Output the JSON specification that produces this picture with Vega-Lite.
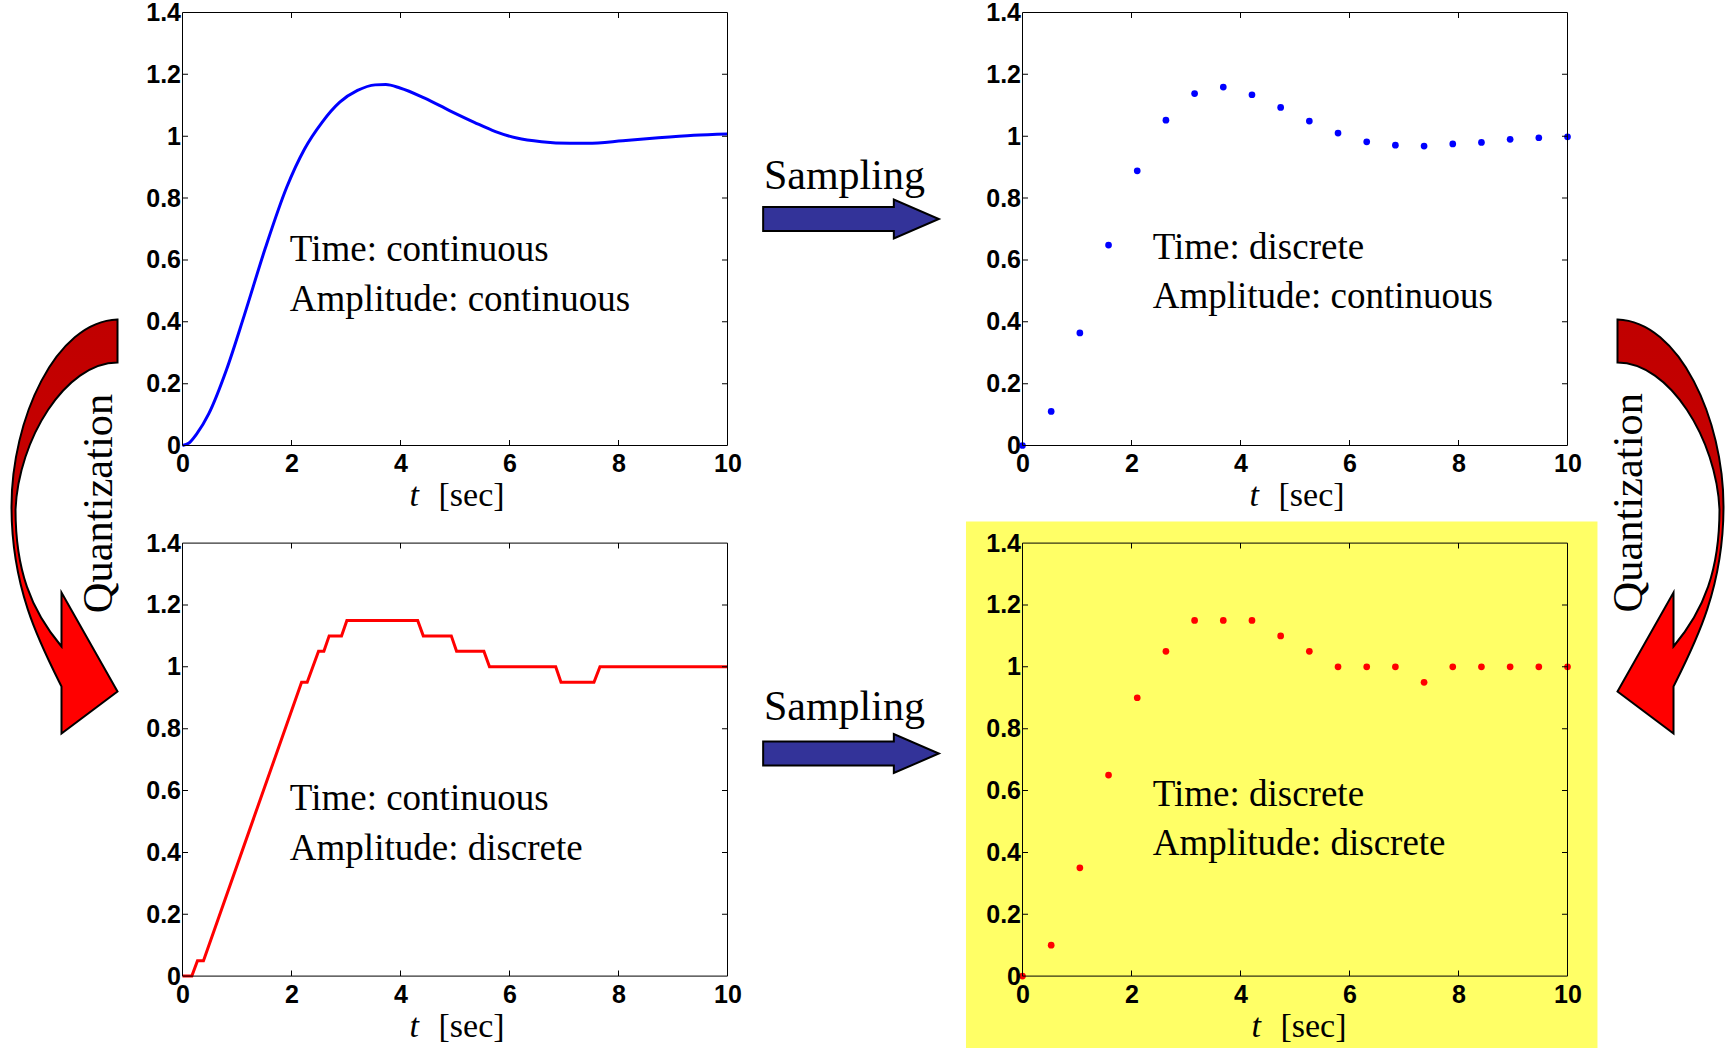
{
  "$schema": "https://vega.github.io/schema/vega-lite/v6.json",
  "background": "white",
  "padding": {"left": 6.5, "top": 0.5, "right": 0, "bottom": 0},
  "bounds": "flush",
  "columns": 2,
  "spacing": {"row": 97.6, "column": 295},
  "datasets": {
    "cont": [{"t":0,"v":0},{"t":0.12,"v":0.008},{"t":0.255,"v":0.036},{"t":0.483,"v":0.103},{"t":0.807,"v":0.245},{"t":1.132,"v":0.42},{"t":1.523,"v":0.64},{"t":1.912,"v":0.835},{"t":2.237,"v":0.958},{"t":2.561,"v":1.045},{"t":2.886,"v":1.11},{"t":3.211,"v":1.148},{"t":3.535,"v":1.166},{"t":3.73,"v":1.167},{"t":3.99,"v":1.156},{"t":4.444,"v":1.123},{"t":4.899,"v":1.083},{"t":5.354,"v":1.045},{"t":5.743,"v":1.015},{"t":6.133,"v":0.994},{"t":6.587,"v":0.982},{"t":7.108,"v":0.977},{"t":7.431,"v":0.977},{"t":8.08,"v":0.985},{"t":8.732,"v":0.995},{"t":9.382,"v":1.003},{"t":10,"v":1.007}],
    "quant": [{"t":0,"v":0},{"t":0.171,"v":0},{"t":0.275,"v":0.05},{"t":0.385,"v":0.05},{"t":2.185,"v":0.95},{"t":2.288,"v":0.95},{"t":2.496,"v":1.05},{"t":2.594,"v":1.05},{"t":2.691,"v":1.1},{"t":2.918,"v":1.1},{"t":3.016,"v":1.15},{"t":4.315,"v":1.15},{"t":4.418,"v":1.1},{"t":4.932,"v":1.1},{"t":5.029,"v":1.05},{"t":5.53,"v":1.05},{"t":5.633,"v":1.0},{"t":6.848,"v":1.0},{"t":6.945,"v":0.95},{"t":7.55,"v":0.95},{"t":7.66,"v":1.0},{"t":10,"v":1.0}],
    "samp": [{"t":0,"v":0},{"t":0.5263,"v":0.11},{"t":1.0526,"v":0.364},{"t":1.5789,"v":0.648},{"t":2.1053,"v":0.888},{"t":2.6316,"v":1.052},{"t":3.1579,"v":1.138},{"t":3.6842,"v":1.159},{"t":4.2105,"v":1.134},{"t":4.7368,"v":1.093},{"t":5.2632,"v":1.049},{"t":5.7895,"v":1.01},{"t":6.3158,"v":0.982},{"t":6.8421,"v":0.971},{"t":7.3684,"v":0.968},{"t":7.8947,"v":0.975},{"t":8.4211,"v":0.98},{"t":8.9474,"v":0.99},{"t":9.4737,"v":0.995},{"t":10,"v":0.998}],
    "sampq": [{"t":0,"v":0},{"t":0.5263,"v":0.1},{"t":1.0526,"v":0.35},{"t":1.5789,"v":0.65},{"t":2.1053,"v":0.9},{"t":2.6316,"v":1.05},{"t":3.1579,"v":1.15},{"t":3.6842,"v":1.15},{"t":4.2105,"v":1.15},{"t":4.7368,"v":1.1},{"t":5.2632,"v":1.05},{"t":5.7895,"v":1.0},{"t":6.3158,"v":1.0},{"t":6.8421,"v":1.0},{"t":7.3684,"v":0.95},{"t":7.8947,"v":1.0},{"t":8.4211,"v":1.0},{"t":8.9474,"v":1.0},{"t":9.4737,"v":1.0},{"t":10,"v":1.0}],
    "xt": [{"v":2},{"v":4},{"v":6},{"v":8}],
    "yt": [{"v":0.2},{"v":0.4},{"v":0.6},{"v":0.8},{"v":1},{"v":1.2}],
    "one": [{}]
  },
  "config": {
    "view": {"stroke": null},
    "axis": {"zindex": 1, "grid": false, "ticks": false, "domain": false, "labelFont": "Liberation Sans", "labelFontWeight": "bold", "labelFontSize": 25, "labelColor": "black", "labelOverlap": false, "labelFlush": false},
    "axisX": {"labelPadding": 6},
    "axisY": {"labelPadding": 2}
  },
  "concat": [
    {
      "width": 545, "height": 433,
      "layer": [
        {"data": {"name": "cont"}, "mark": {"type": "line", "color": "#0000FF", "strokeWidth": 3, "interpolate": "monotone"},
         "encoding": {"x": {"field": "t", "type": "quantitative", "scale": {"domain": [0, 10], "nice": false, "zero": false}, "axis": {"values": [0, 2, 4, 6, 8, 10], "title": null, "format": ".2~f", "zindex": 1}},
                      "y": {"field": "v", "type": "quantitative", "scale": {"domain": [0, 1.4], "nice": false}, "axis": {"values": [0, 0.2, 0.4, 0.6, 0.8, 1, 1.2, 1.4], "title": null, "format": ".2~f", "zindex": 1}}}},
        {"data": {"values": [{"tx": 1.97, "ty": 0.596, "label": "Time: continuous"}, {"tx": 1.97, "ty": 0.434, "label": "Amplitude: continuous"}]},
         "mark": {"type": "text", "align": "left", "baseline": "alphabetic", "font": "Liberation Serif", "fontSize": 37, "color": "black"},
         "encoding": {"x": {"field": "tx", "type": "quantitative"}, "y": {"field": "ty", "type": "quantitative"}, "text": {"field": "label"}}},
        {"data": {"name": "one"}, "mark": {"type": "rect", "filled": false, "color": "black", "strokeWidth": 1}, "encoding": {"x": {"datum": 0}, "x2": {"datum": 10}, "y": {"datum": 0}, "y2": {"datum": 1.4}}},
        {"data": {"name": "xt"}, "mark": {"type": "tick", "orient": "vertical", "size": 11, "thickness": 1, "color": "black", "opacity": 1, "clip": true}, "encoding": {"x": {"field": "v", "type": "quantitative"}, "y": {"datum": 0}}},
        {"data": {"name": "xt"}, "mark": {"type": "tick", "orient": "vertical", "size": 11, "thickness": 1, "color": "black", "opacity": 1, "clip": true}, "encoding": {"x": {"field": "v", "type": "quantitative"}, "y": {"datum": 1.4}}},
        {"data": {"name": "yt"}, "mark": {"type": "tick", "orient": "horizontal", "size": 11, "thickness": 1, "color": "black", "opacity": 1, "clip": true}, "encoding": {"y": {"field": "v", "type": "quantitative"}, "x": {"datum": 0}}},
        {"data": {"name": "yt"}, "mark": {"type": "tick", "orient": "horizontal", "size": 11, "thickness": 1, "color": "black", "opacity": 1, "clip": true}, "encoding": {"y": {"field": "v", "type": "quantitative"}, "x": {"datum": 10}}},
        {"data": {"name": "one"}, "mark": {"type": "text", "text": "t", "font": "Liberation Serif", "fontStyle": "italic", "fontSize": 34, "align": "left", "baseline": "alphabetic", "color": "black"}, "encoding": {"x": {"datum": 4.165}, "y": {"datum": -0.1963}}},
        {"data": {"name": "one"}, "mark": {"type": "text", "text": "[sec]", "font": "Liberation Serif", "fontSize": 34, "align": "left", "baseline": "alphabetic", "color": "black"}, "encoding": {"x": {"datum": 4.697}, "y": {"datum": -0.1963}}},
        {"data": {"name": "one"}, "mark": {"type": "point", "shape": "M-0.976,-0.133 L0.476,-0.133 L0.476,-0.217 L0.976,0 L0.476,0.217 L0.476,0.133 L-0.976,0.133 Z", "size": 32400, "filled": true, "fill": "#333399", "stroke": "black", "strokeWidth": 2, "opacity": 1}, "encoding": {"x": {"datum": 12.266}, "y": {"datum": 0.7323}}},
        {"data": {"name": "one"}, "mark": {"type": "text", "text": "Sampling", "font": "Liberation Serif", "fontSize": 42, "align": "center", "baseline": "alphabetic", "color": "black"}, "encoding": {"x": {"datum": 12.145}, "y": {"datum": 0.8309}}},
        {"data": {"name": "one"}, "mark": {"type": "point", "shape": "M0.2524,-0.9857 C-0.0429,-0.9762 -0.2524,-0.5095 -0.2524,-0.0952 C-0.2524,0.3 -0.1143,0.5619 -0.0143,0.7619 L-0.0143,0.9857 L0.2524,0.7857 L-0.0143,0.3143 L-0.0143,0.5714 C-0.1619,0.3952 -0.2333,0.2048 -0.2333,-0.081 C-0.219,-0.4143 0.0048,-0.781 0.2524,-0.781 Z", "size": 176400, "filled": true, "fill": {"gradient": "linear", "x1": 0, "y1": 0, "x2": 0, "y2": 1, "stops": [{"offset": 0, "color": "#C00000"}, {"offset": 0.44, "color": "#C80000"}, {"offset": 0.5, "color": "#FF0000"}, {"offset": 1, "color": "#FF0000"}]}, "stroke": "black", "strokeWidth": 2, "opacity": 1}, "encoding": {"x": {"datum": -2.1651}, "y": {"datum": -0.2619}}},
        {"data": {"name": "one"}, "mark": {"type": "text", "text": "Quantization", "angle": 270, "font": "Liberation Serif", "fontSize": 42.5, "align": "center", "baseline": "alphabetic", "color": "black"}, "encoding": {"x": {"datum": -1.29}, "y": {"datum": -0.1875}}}
      ]
    },
    {
      "width": 545, "height": 433,
      "layer": [
        {"data": {"name": "samp"}, "mark": {"type": "point", "filled": true, "size": 45, "color": "#0000FF", "opacity": 1},
         "encoding": {"x": {"field": "t", "type": "quantitative", "scale": {"domain": [0, 10], "nice": false, "zero": false}, "axis": {"values": [0, 2, 4, 6, 8, 10], "title": null, "format": ".2~f", "zindex": 1}},
                      "y": {"field": "v", "type": "quantitative", "scale": {"domain": [0, 1.4], "nice": false}, "axis": {"values": [0, 0.2, 0.4, 0.6, 0.8, 1, 1.2, 1.4], "title": null, "format": ".2~f", "zindex": 1}}}},
        {"data": {"values": [{"tx": 2.39, "ty": 0.604, "label": "Time: discrete"}, {"tx": 2.39, "ty": 0.445, "label": "Amplitude: continuous"}]},
         "mark": {"type": "text", "align": "left", "baseline": "alphabetic", "font": "Liberation Serif", "fontSize": 37, "color": "black"},
         "encoding": {"x": {"field": "tx", "type": "quantitative"}, "y": {"field": "ty", "type": "quantitative"}, "text": {"field": "label"}}},
        {"data": {"name": "one"}, "mark": {"type": "rect", "filled": false, "color": "black", "strokeWidth": 1}, "encoding": {"x": {"datum": 0}, "x2": {"datum": 10}, "y": {"datum": 0}, "y2": {"datum": 1.4}}},
        {"data": {"name": "xt"}, "mark": {"type": "tick", "orient": "vertical", "size": 11, "thickness": 1, "color": "black", "opacity": 1, "clip": true}, "encoding": {"x": {"field": "v", "type": "quantitative"}, "y": {"datum": 0}}},
        {"data": {"name": "xt"}, "mark": {"type": "tick", "orient": "vertical", "size": 11, "thickness": 1, "color": "black", "opacity": 1, "clip": true}, "encoding": {"x": {"field": "v", "type": "quantitative"}, "y": {"datum": 1.4}}},
        {"data": {"name": "yt"}, "mark": {"type": "tick", "orient": "horizontal", "size": 11, "thickness": 1, "color": "black", "opacity": 1, "clip": true}, "encoding": {"y": {"field": "v", "type": "quantitative"}, "x": {"datum": 0}}},
        {"data": {"name": "yt"}, "mark": {"type": "tick", "orient": "horizontal", "size": 11, "thickness": 1, "color": "black", "opacity": 1, "clip": true}, "encoding": {"y": {"field": "v", "type": "quantitative"}, "x": {"datum": 10}}},
        {"data": {"name": "one"}, "mark": {"type": "text", "text": "t", "font": "Liberation Serif", "fontStyle": "italic", "fontSize": 34, "align": "left", "baseline": "alphabetic", "color": "black"}, "encoding": {"x": {"datum": 4.165}, "y": {"datum": -0.1963}}},
        {"data": {"name": "one"}, "mark": {"type": "text", "text": "[sec]", "font": "Liberation Serif", "fontSize": 34, "align": "left", "baseline": "alphabetic", "color": "black"}, "encoding": {"x": {"datum": 4.697}, "y": {"datum": -0.1963}}},
        {"data": {"name": "one"}, "mark": {"type": "point", "shape": "M-0.2524,-0.9857 C0.0429,-0.9762 0.2524,-0.5095 0.2524,-0.0952 C0.2524,0.3 0.1143,0.5619 0.0143,0.7619 L0.0143,0.9857 L-0.2524,0.7857 L0.0143,0.3143 L0.0143,0.5714 C0.1619,0.3952 0.2333,0.2048 0.2333,-0.081 C0.219,-0.4143 -0.0048,-0.781 -0.2524,-0.781 Z", "size": 176400, "filled": true, "fill": {"gradient": "linear", "x1": 0, "y1": 0, "x2": 0, "y2": 1, "stops": [{"offset": 0, "color": "#C00000"}, {"offset": 0.44, "color": "#C80000"}, {"offset": 0.5, "color": "#FF0000"}, {"offset": 1, "color": "#FF0000"}]}, "stroke": "black", "strokeWidth": 2, "opacity": 1}, "encoding": {"x": {"datum": 11.89}, "y": {"datum": -0.2619}}},
        {"data": {"name": "one"}, "mark": {"type": "text", "text": "Quantization", "angle": 270, "font": "Liberation Serif", "fontSize": 42.5, "align": "center", "baseline": "alphabetic", "color": "black"}, "encoding": {"x": {"datum": 11.371}, "y": {"datum": -0.1853}}}
      ]
    },
    {
      "width": 545, "height": 433,
      "layer": [
        {"data": {"name": "quant"}, "mark": {"type": "line", "color": "#FF0000", "strokeWidth": 3},
         "encoding": {"x": {"field": "t", "type": "quantitative", "scale": {"domain": [0, 10], "nice": false, "zero": false}, "axis": {"values": [0, 2, 4, 6, 8, 10], "title": null, "format": ".2~f", "zindex": 1}},
                      "y": {"field": "v", "type": "quantitative", "scale": {"domain": [0, 1.4], "nice": false}, "axis": {"values": [0, 0.2, 0.4, 0.6, 0.8, 1, 1.2, 1.4], "title": null, "format": ".2~f", "zindex": 1}}}},
        {"data": {"values": [{"tx": 1.97, "ty": 0.536, "label": "Time: continuous"}, {"tx": 1.97, "ty": 0.375, "label": "Amplitude: discrete"}]},
         "mark": {"type": "text", "align": "left", "baseline": "alphabetic", "font": "Liberation Serif", "fontSize": 37, "color": "black"},
         "encoding": {"x": {"field": "tx", "type": "quantitative"}, "y": {"field": "ty", "type": "quantitative"}, "text": {"field": "label"}}},
        {"data": {"name": "one"}, "mark": {"type": "rect", "filled": false, "color": "black", "strokeWidth": 1}, "encoding": {"x": {"datum": 0}, "x2": {"datum": 10}, "y": {"datum": 0}, "y2": {"datum": 1.4}}},
        {"data": {"name": "xt"}, "mark": {"type": "tick", "orient": "vertical", "size": 11, "thickness": 1, "color": "black", "opacity": 1, "clip": true}, "encoding": {"x": {"field": "v", "type": "quantitative"}, "y": {"datum": 0}}},
        {"data": {"name": "xt"}, "mark": {"type": "tick", "orient": "vertical", "size": 11, "thickness": 1, "color": "black", "opacity": 1, "clip": true}, "encoding": {"x": {"field": "v", "type": "quantitative"}, "y": {"datum": 1.4}}},
        {"data": {"name": "yt"}, "mark": {"type": "tick", "orient": "horizontal", "size": 11, "thickness": 1, "color": "black", "opacity": 1, "clip": true}, "encoding": {"y": {"field": "v", "type": "quantitative"}, "x": {"datum": 0}}},
        {"data": {"name": "yt"}, "mark": {"type": "tick", "orient": "horizontal", "size": 11, "thickness": 1, "color": "black", "opacity": 1, "clip": true}, "encoding": {"y": {"field": "v", "type": "quantitative"}, "x": {"datum": 10}}},
        {"data": {"name": "one"}, "mark": {"type": "text", "text": "t", "font": "Liberation Serif", "fontStyle": "italic", "fontSize": 34, "align": "left", "baseline": "alphabetic", "color": "black"}, "encoding": {"x": {"datum": 4.165}, "y": {"datum": -0.1963}}},
        {"data": {"name": "one"}, "mark": {"type": "text", "text": "[sec]", "font": "Liberation Serif", "fontSize": 34, "align": "left", "baseline": "alphabetic", "color": "black"}, "encoding": {"x": {"datum": 4.697}, "y": {"datum": -0.1963}}},
        {"data": {"name": "one"}, "mark": {"type": "point", "shape": "M-0.976,-0.133 L0.476,-0.133 L0.476,-0.217 L0.976,0 L0.476,0.217 L0.476,0.133 L-0.976,0.133 Z", "size": 32400, "filled": true, "fill": "#333399", "stroke": "black", "strokeWidth": 2, "opacity": 1}, "encoding": {"x": {"datum": 12.266}, "y": {"datum": 0.7197}}},
        {"data": {"name": "one"}, "mark": {"type": "text", "text": "Sampling", "font": "Liberation Serif", "fontSize": 42, "align": "center", "baseline": "alphabetic", "color": "black"}, "encoding": {"x": {"datum": 12.145}, "y": {"datum": 0.8296}}}
      ]
    },
    {
      "width": 545, "height": 433,
      "layer": [
        {"data": {"name": "one"}, "mark": {"type": "rect", "color": "#FFFF66", "opacity": 1}, "encoding": {"x": {"datum": -1.037}, "x2": {"datum": 10.55}, "y": {"datum": -0.2325}, "y2": {"datum": 1.4698}}},
        {"data": {"name": "sampq"}, "mark": {"type": "point", "filled": true, "size": 45, "color": "#FF0000", "opacity": 1},
         "encoding": {"x": {"field": "t", "type": "quantitative", "scale": {"domain": [0, 10], "nice": false, "zero": false}, "axis": {"values": [0, 2, 4, 6, 8, 10], "title": null, "format": ".2~f", "zindex": 1}},
                      "y": {"field": "v", "type": "quantitative", "scale": {"domain": [0, 1.4], "nice": false}, "axis": {"values": [0, 0.2, 0.4, 0.6, 0.8, 1, 1.2, 1.4], "title": null, "format": ".2~f", "zindex": 1}}}},
        {"data": {"values": [{"tx": 2.389, "ty": 0.551, "label": "Time: discrete"}, {"tx": 2.389, "ty": 0.392, "label": "Amplitude: discrete"}]},
         "mark": {"type": "text", "align": "left", "baseline": "alphabetic", "font": "Liberation Serif", "fontSize": 37, "color": "black"},
         "encoding": {"x": {"field": "tx", "type": "quantitative"}, "y": {"field": "ty", "type": "quantitative"}, "text": {"field": "label"}}},
        {"data": {"name": "one"}, "mark": {"type": "rect", "filled": false, "color": "black", "strokeWidth": 1}, "encoding": {"x": {"datum": 0}, "x2": {"datum": 10}, "y": {"datum": 0}, "y2": {"datum": 1.4}}},
        {"data": {"name": "xt"}, "mark": {"type": "tick", "orient": "vertical", "size": 11, "thickness": 1, "color": "black", "opacity": 1, "clip": true}, "encoding": {"x": {"field": "v", "type": "quantitative"}, "y": {"datum": 0}}},
        {"data": {"name": "xt"}, "mark": {"type": "tick", "orient": "vertical", "size": 11, "thickness": 1, "color": "black", "opacity": 1, "clip": true}, "encoding": {"x": {"field": "v", "type": "quantitative"}, "y": {"datum": 1.4}}},
        {"data": {"name": "yt"}, "mark": {"type": "tick", "orient": "horizontal", "size": 11, "thickness": 1, "color": "black", "opacity": 1, "clip": true}, "encoding": {"y": {"field": "v", "type": "quantitative"}, "x": {"datum": 0}}},
        {"data": {"name": "yt"}, "mark": {"type": "tick", "orient": "horizontal", "size": 11, "thickness": 1, "color": "black", "opacity": 1, "clip": true}, "encoding": {"y": {"field": "v", "type": "quantitative"}, "x": {"datum": 10}}},
        {"data": {"name": "one"}, "mark": {"type": "text", "text": "t", "font": "Liberation Serif", "fontStyle": "italic", "fontSize": 34, "align": "left", "baseline": "alphabetic", "color": "black"}, "encoding": {"x": {"datum": 4.2}, "y": {"datum": -0.1963}}},
        {"data": {"name": "one"}, "mark": {"type": "text", "text": "[sec]", "font": "Liberation Serif", "fontSize": 34, "align": "left", "baseline": "alphabetic", "color": "black"}, "encoding": {"x": {"datum": 4.732}, "y": {"datum": -0.1963}}}
      ]
    }
  ]
}
